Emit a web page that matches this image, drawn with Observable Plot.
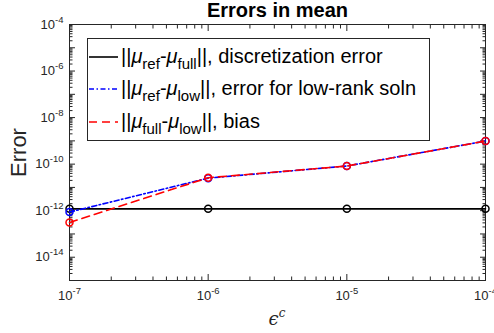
<!DOCTYPE html>
<html><head><meta charset="utf-8">
<script src="https://cdn.jsdelivr.net/npm/d3@7"></script>
<script src="https://cdn.jsdelivr.net/npm/@observablehq/plot@0.6"></script>
<style>body{margin:0;background:#fff} svg{display:block}</style>
</head><body><div id="chart"></div>
<script>
// ---- data ----
const epsC = [1e-7, 1e-6, 1e-5, 1e-4];
const discretizationError = [1.2e-12, 1.2e-12, 1.2e-12, 1.2e-12];
const lowRankError = [8.7e-13, 2.5e-11, 8.3e-11, 9.8e-10];
const biasError = [3.1e-13, 2.6e-11, 8.3e-11, 9.8e-10];
const xTickValues = [1e-7, 1e-6, 1e-5, 1e-4];
const yTickLabelValues = [1e-4, 1e-6, 1e-8, 1e-10, 1e-12, 1e-14];
const titleText = "Errors in mean";
const yLabelText = "Error";
const legendDescriptions = [", discretization error", ", error for low-rank soln", ", bias"];
const legendSubs = [["ref", "full"], ["ref", "low"], ["full", "low"]];

// ---- helpers (ticks) ----
const decades = (a, b) => d3.range(a, b + 1).map(k => Math.pow(10, k));
const minors = (a, b) => d3.range(a, b).flatMap(k => d3.range(2, 10).map(m => m * Math.pow(10, k)));
const xMajor = decades(-7, -4), xMinor = minors(-7, -4);
const yMajor = decades(-15, -4), yMinor = minors(-15, -4);
const supFmt = d => "10^" + Math.round(Math.log10(d));

const toRows = (ys) => epsC.map((x, i) => ({x, y: ys[i]}));
const disc = toRows(discretizationError), low = toRows(lowRankError), bias = toRows(biasError);

const axC = "#262626";
const blueDash = "5,2.5,1.5,2.5", redDash = "8,5";

const chart = Plot.plot({
  width: 494, height: 333,
  marginTop: 24, marginLeft: 69, marginRight: 9, marginBottom: 53,
  style: {fontFamily: "'Liberation Sans', Arial, sans-serif", background: "#fff", color: axC},
  x: {type: "log", domain: [1e-7, 1e-4]},
  y: {type: "log", domain: [1e-15, 1e-4]},
  marks: [
    Plot.frame({stroke: axC, strokeWidth: 1}),
    Plot.axisX(xMajor, {anchor: "bottom", tickSize: -6, fill: "none", label: null}),
    Plot.axisX(xMinor, {anchor: "bottom", tickSize: -3.5, fill: "none", label: null}),
    Plot.axisX(xMajor, {anchor: "top", tickSize: -6, fill: "none", label: null}),
    Plot.axisX(xMinor, {anchor: "top", tickSize: -3.5, fill: "none", label: null}),
    Plot.axisX(xTickValues, {anchor: "bottom", tickSize: 0, tickPadding: 10, tickFormat: supFmt, fontSize: 13, fill: axC, label: null}),
    Plot.axisY(yMajor, {anchor: "left", tickSize: -6, fill: "none", label: null}),
    Plot.axisY(yMinor, {anchor: "left", tickSize: -3.5, fill: "none", label: null}),
    Plot.axisY(yMajor, {anchor: "right", tickSize: -6, fill: "none", label: null}),
    Plot.axisY(yMinor, {anchor: "right", tickSize: -3.5, fill: "none", label: null}),
    Plot.axisY(yTickLabelValues, {anchor: "left", tickSize: 0, tickPadding: 6, tickFormat: supFmt, fontSize: 13, fill: axC, label: null}),
    Plot.text([titleText], {frameAnchor: "top", dy: -8, lineAnchor: "bottom", textAnchor: "middle", fontSize: 20, fontWeight: "bold", fill: "#000"}),
    Plot.text([yLabelText], {frameAnchor: "left", dx: -51, rotate: -90, textAnchor: "middle", lineAnchor: "middle", fontSize: 22, fill: axC}),
    Plot.line(disc, {x: "x", y: "y", stroke: "#000", strokeWidth: 1.6}),
    Plot.dot(disc, {x: "x", y: "y", r: 3.5, stroke: "#000", strokeWidth: 1.5, fill: "none"}),
    Plot.line(low, {x: "x", y: "y", stroke: "#0000ff", strokeWidth: 1.6, strokeDasharray: blueDash}),
    Plot.dot(low, {x: "x", y: "y", r: 3.5, stroke: "#0000ff", strokeWidth: 1.5, fill: "none"}),
    Plot.line(bias, {x: "x", y: "y", stroke: "#ff0000", strokeWidth: 1.6, strokeDasharray: redDash}),
    Plot.dot(bias, {x: "x", y: "y", r: 3.5, stroke: "#ff0000", strokeWidth: 1.5, fill: "none"})
  ]
});
document.getElementById("chart").appendChild(chart);

const svg = d3.select(chart);
// superscript tick labels
svg.selectAll("text").each(function () {
  const t = d3.select(this);
  if (t.select("tspan").size()) return;
  const m = /^10\^(-?\d+)$/.exec(t.text());
  if (!m) return;
  t.text("");
  t.append("tspan").text("10");
  t.append("tspan").attr("dy", "-6").attr("font-size", "9.5").text(m[1]);
});

// x label
const xl = svg.append("text").attr("x", 277).attr("y", 325).attr("text-anchor", "middle")
  .attr("fill", axC).attr("font-size", 18).attr("font-family", "'DejaVu Serif', serif").attr("font-style", "italic");
xl.append("tspan").text("ϵ");
xl.append("tspan").attr("dy", -8).attr("font-size", 12).text("c");

// legend
const colors = ["#000", "#0000ff", "#ff0000"];
const dashes = [null, blueDash, redDash];
const lg = svg.append("g").attr("text-anchor", "start");
lg.append("rect").attr("x", 87.5).attr("y", 38.5).attr("width", 342).attr("height", 102)
  .attr("fill", "#fff").attr("stroke", axC).attr("stroke-width", 1);
[57, 89, 122].forEach((ly, i) => {
  lg.append("line").attr("x1", 89).attr("x2", 118).attr("y1", ly).attr("y2", ly)
    .attr("stroke", colors[i]).attr("stroke-width", 1.6).attr("stroke-dasharray", dashes[i]);
  const t = lg.append("text").attr("x", 121).attr("y", ly + 6).attr("text-anchor", "start")
    .attr("font-size", 20).attr("fill", "#000");
  t.append("tspan").text("||");
  t.append("tspan").attr("font-style", "italic").text("μ");
  t.append("tspan").attr("dy", 6).attr("font-size", 15).text(legendSubs[i][0]);
  t.append("tspan").attr("dy", -6).text("-");
  t.append("tspan").attr("font-style", "italic").text("μ");
  t.append("tspan").attr("dy", 6).attr("font-size", 15).text(legendSubs[i][1]);
  t.append("tspan").attr("dy", -6).text("||" + legendDescriptions[i]);
});
</script>
</body></html>
